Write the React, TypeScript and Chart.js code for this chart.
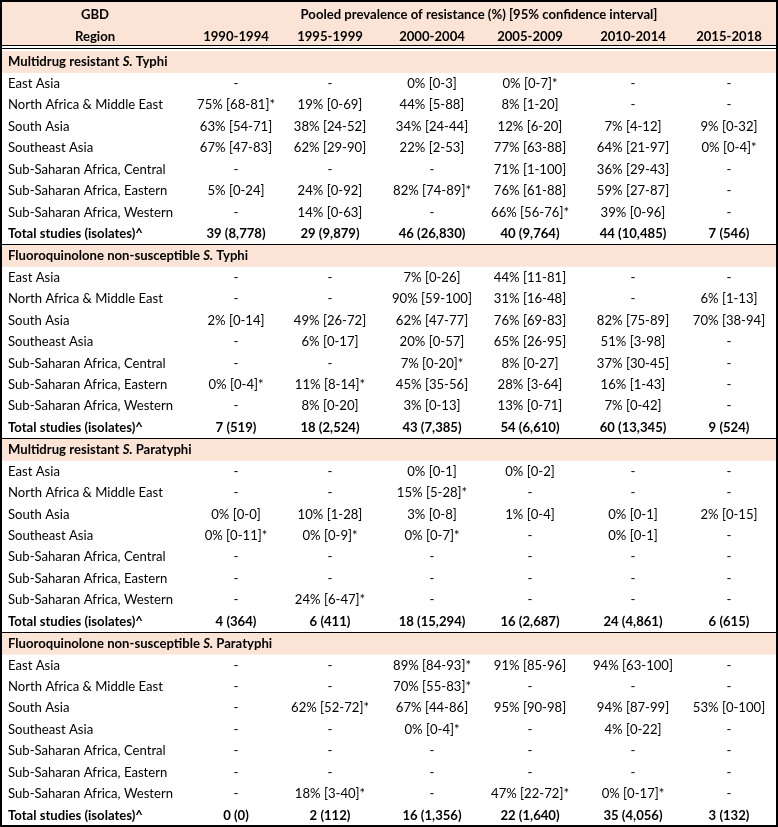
import React, { useEffect, useRef } from "react";
import { Chart, registerables } from "chart.js";

Chart.register(...registerables);

// ---------- data ----------
const YEARS = ["1990-1994", "1995-1999", "2000-2004", "2005-2009", "2010-2014", "2015-2018"];
const REGIONS = [
  "East Asia",
  "North Africa & Middle East",
  "South Asia",
  "Southeast Asia",
  "Sub-Saharan Africa, Central",
  "Sub-Saharan Africa, Eastern",
  "Sub-Saharan Africa, Western",
];
const HEADER_REGION = ["GBD", "Region"];
const HEADER_SPAN = "Pooled prevalence of resistance (%) [95% confidence interval]";
const TOTAL_LABEL = "Total studies (isolates)^";

const TITLE_MDR_TYPHI = ["Multidrug resistant ", "S.", " Typhi"];
const TITLE_FQ_TYPHI = ["Fluoroquinolone non-susceptible ", "S.", " Typhi"];
const TITLE_MDR_PARA = ["Multidrug resistant ", "S.", " Paratyphi"];
const TITLE_FQ_PARA = ["Fluoroquinolone non-susceptible ", "S.", " Paratyphi"];

const MDR_TYPHI = [
  ["-", "-", "0% [0-3]", "0% [0-7]*", "-", "-"],
  ["75% [68-81]*", "19% [0-69]", "44% [5-88]", "8% [1-20]", "-", "-"],
  ["63% [54-71]", "38% [24-52]", "34% [24-44]", "12% [6-20]", "7% [4-12]", "9% [0-32]"],
  ["67% [47-83]", "62% [29-90]", "22% [2-53]", "77% [63-88]", "64% [21-97]", "0% [0-4]*"],
  ["-", "-", "-", "71% [1-100]", "36% [29-43]", "-"],
  ["5% [0-24]", "24% [0-92]", "82% [74-89]*", "76% [61-88]", "59% [27-87]", "-"],
  ["-", "14% [0-63]", "-", "66% [56-76]*", "39% [0-96]", "-"],
];
const MDR_TYPHI_TOTAL = ["39 (8,778)", "29 (9,879)", "46 (26,830)", "40 (9,764)", "44 (10,485)", "7 (546)"];

const FQ_TYPHI = [
  ["-", "-", "7% [0-26]", "44% [11-81]", "-", "-"],
  ["-", "-", "90% [59-100]", "31% [16-48]", "-", "6% [1-13]"],
  ["2% [0-14]", "49% [26-72]", "62% [47-77]", "76% [69-83]", "82% [75-89]", "70% [38-94]"],
  ["-", "6% [0-17]", "20% [0-57]", "65% [26-95]", "51% [3-98]", "-"],
  ["-", "-", "7% [0-20]*", "8% [0-27]", "37% [30-45]", "-"],
  ["0% [0-4]*", "11% [8-14]*", "45% [35-56]", "28% [3-64]", "16% [1-43]", "-"],
  ["-", "8% [0-20]", "3% [0-13]", "13% [0-71]", "7% [0-42]", "-"],
];
const FQ_TYPHI_TOTAL = ["7 (519)", "18 (2,524)", "43 (7,385)", "54 (6,610)", "60 (13,345)", "9 (524)"];

const MDR_PARA = [
  ["-", "-", "0% [0-1]", "0% [0-2]", "-", "-"],
  ["-", "-", "15% [5-28]*", "-", "-", "-"],
  ["0% [0-0]", "10% [1-28]", "3% [0-8]", "1% [0-4]", "0% [0-1]", "2% [0-15]"],
  ["0% [0-11]*", "0% [0-9]*", "0% [0-7]*", "-", "0% [0-1]", "-"],
  ["-", "-", "-", "-", "-", "-"],
  ["-", "-", "-", "-", "-", "-"],
  ["-", "24% [6-47]*", "-", "-", "-", "-"],
];
const MDR_PARA_TOTAL = ["4 (364)", "6 (411)", "18 (15,294)", "16 (2,687)", "24 (4,861)", "6 (615)"];

const FQ_PARA = [
  ["-", "-", "89% [84-93]*", "91% [85-96]", "94% [63-100]", "-"],
  ["-", "-", "70% [55-83]*", "-", "-", "-"],
  ["-", "62% [52-72]*", "67% [44-86]", "95% [90-98]", "94% [87-99]", "53% [0-100]"],
  ["-", "-", "0% [0-4]*", "-", "4% [0-22]", "-"],
  ["-", "-", "-", "-", "-", "-"],
  ["-", "-", "-", "-", "-", "-"],
  ["-", "18% [3-40]*", "-", "47% [22-72]*", "0% [0-17]*", "-"],
];
const FQ_PARA_TOTAL = ["0 (0)", "2 (112)", "16 (1,356)", "22 (1,640)", "35 (4,056)", "3 (132)"];

const SECTIONS = [
  { title: TITLE_MDR_TYPHI, values: MDR_TYPHI, totals: MDR_TYPHI_TOTAL },
  { title: TITLE_FQ_TYPHI, values: FQ_TYPHI, totals: FQ_TYPHI_TOTAL },
  { title: TITLE_MDR_PARA, values: MDR_PARA, totals: MDR_PARA_TOTAL },
  { title: TITLE_FQ_PARA, values: FQ_PARA, totals: FQ_PARA_TOTAL },
];

// ---------- layout / style ----------
const W = 778;
const H = 827;
const COL_X = [95, 236, 330, 432, 530, 633, 729];
const SPAN_X = 479;
const TEXT_LEFT = 8;
const Y_MIN = -0.7;
const Y_MAX = 37.86;
const HEADER2_Y = 1.02;
const BODY_START = 2.2;
const SECTION_STEP = 9.04;
const DOUBLE_LINE = [1.4, 1.55];
const FONT_FAMILY = "Lato, 'Open Sans', sans-serif";
const FIT_SAMPLE = "North Africa & Middle East";
const FIT_WIDTH = 155;
const PEACH = "#fbe4d5";
const INK = "#000000";

type Cell = {
  x: number;
  y: number;
  text?: string;
  segs?: string[];
  bold?: boolean;
  align: "left" | "center";
};

function buildCells(): Cell[] {
  const cells: Cell[] = [];
  cells.push({ x: COL_X[0], y: 0, text: HEADER_REGION[0], bold: true, align: "center" });
  cells.push({ x: SPAN_X, y: 0, text: HEADER_SPAN, bold: true, align: "center" });
  cells.push({ x: COL_X[0], y: HEADER2_Y, text: HEADER_REGION[1], bold: true, align: "center" });
  YEARS.forEach((yr, i) => cells.push({ x: COL_X[i + 1], y: HEADER2_Y, text: yr, bold: true, align: "center" }));
  SECTIONS.forEach((sec, s) => {
    const base = BODY_START + s * SECTION_STEP;
    cells.push({ x: TEXT_LEFT, y: base, segs: sec.title, bold: true, align: "left" });
    REGIONS.forEach((reg, r) => {
      cells.push({ x: TEXT_LEFT, y: base + 1 + r, text: reg, align: "left" });
      sec.values[r].forEach((v, c) => cells.push({ x: COL_X[c + 1], y: base + 1 + r, text: v, align: "center" }));
    });
    cells.push({ x: TEXT_LEFT, y: base + 8, text: TOTAL_LABEL, bold: true, align: "left" });
    sec.totals.forEach((v, c) => cells.push({ x: COL_X[c + 1], y: base + 8, text: v, bold: true, align: "center" }));
  });
  return cells;
}

function fontSize(ctx: CanvasRenderingContext2D) {
  ctx.save();
  ctx.font = `100px ${FONT_FAMILY}`;
  const w = ctx.measureText(FIT_SAMPLE).width;
  ctx.restore();
  return (100 * FIT_WIDTH) / w;
}

const tablePlugin = {
  id: "tablePlugin",
  beforeDatasetsDraw(chart: any) {
    const ctx: CanvasRenderingContext2D = chart.ctx;
    const ys = chart.scales.y;
    ctx.save();
    ctx.fillStyle = "#ffffff";
    ctx.fillRect(0, 0, W, H);
    ctx.fillStyle = PEACH;
    const hTop = ys.getPixelForValue(Y_MIN);
    const hBot = ys.getPixelForValue(DOUBLE_LINE[0]);
    ctx.fillRect(0, hTop, W, hBot - hTop);
    SECTIONS.forEach((_, s) => {
      const base = BODY_START + s * SECTION_STEP;
      const t = ys.getPixelForValue(base - 0.52);
      const b = ys.getPixelForValue(base + 0.5);
      ctx.fillRect(0, t, W, b - t);
    });
    ctx.restore();
  },
  afterDatasetsDraw(chart: any) {
    const ctx: CanvasRenderingContext2D = chart.ctx;
    const ys = chart.scales.y;
    const meta = chart.getDatasetMeta(0);
    const data: Cell[] = chart.data.datasets[0].data;
    const size = fontSize(ctx);
    ctx.save();
    ctx.fillStyle = INK;
    ctx.textBaseline = "middle";
    meta.data.forEach((el: any, i: number) => {
      const c = data[i];
      const weight = c.bold ? "bold " : "";
      if (c.segs) {
        let x = el.x;
        ctx.textAlign = "left";
        c.segs.forEach((seg, k) => {
          ctx.font = `${k === 1 ? "italic " : ""}${weight}${size}px ${FONT_FAMILY}`;
          ctx.fillText(seg, x, el.y);
          x += ctx.measureText(seg).width;
        });
      } else if (c.text) {
        ctx.font = `${weight}${size}px ${FONT_FAMILY}`;
        ctx.textAlign = c.align;
        ctx.fillText(c.text, el.x, el.y);
      }
    });
    // lines
    ctx.fillStyle = "#000000";
    DOUBLE_LINE.forEach((v) => {
      const p = Math.round(ys.getPixelForValue(v));
      ctx.fillRect(0, p, W, 1);
    });
    SECTIONS.forEach((_, s) => {
      if (s === SECTIONS.length - 1) return;
      const base = BODY_START + s * SECTION_STEP;
      const p = Math.round(ys.getPixelForValue(base + 8.5));
      ctx.fillRect(0, p, W, 1);
    });
    // outer border
    ctx.fillRect(0, 0, W, 2);
    ctx.fillRect(0, 0, 2, H);
    ctx.fillRect(W - 2, 0, 2, H);
    ctx.fillRect(0, H - 2, W, 2);
    ctx.restore();
  },
};

export default function App() {
  const ref = useRef<HTMLCanvasElement | null>(null);
  useEffect(() => {
    if (!ref.current) return;
    const cells = buildCells();
    const chart = new Chart(ref.current, {
      type: "scatter",
      data: {
        datasets: [
          {
            data: cells as any,
            pointRadius: 0,
            pointHoverRadius: 0,
            showLine: false,
          },
        ],
      },
      options: {
        animation: false,
        responsive: false,
        devicePixelRatio: 1,
        events: [],
        layout: { padding: 0 },
        plugins: { legend: { display: false }, tooltip: { enabled: false } },
        scales: {
          x: { type: "linear", display: false, min: 0, max: W },
          y: { type: "linear", display: false, min: Y_MIN, max: Y_MAX, reverse: true },
        },
      },
      plugins: [tablePlugin],
    });
    return () => chart.destroy();
  }, []);
  return (
    <div style={{ position: "fixed", left: 0, top: 0, width: W, height: H, background: "#fff" }}>
      <canvas ref={ref} width={W} height={H} style={{ width: W, height: H, display: "block" }} />
    </div>
  );
}
